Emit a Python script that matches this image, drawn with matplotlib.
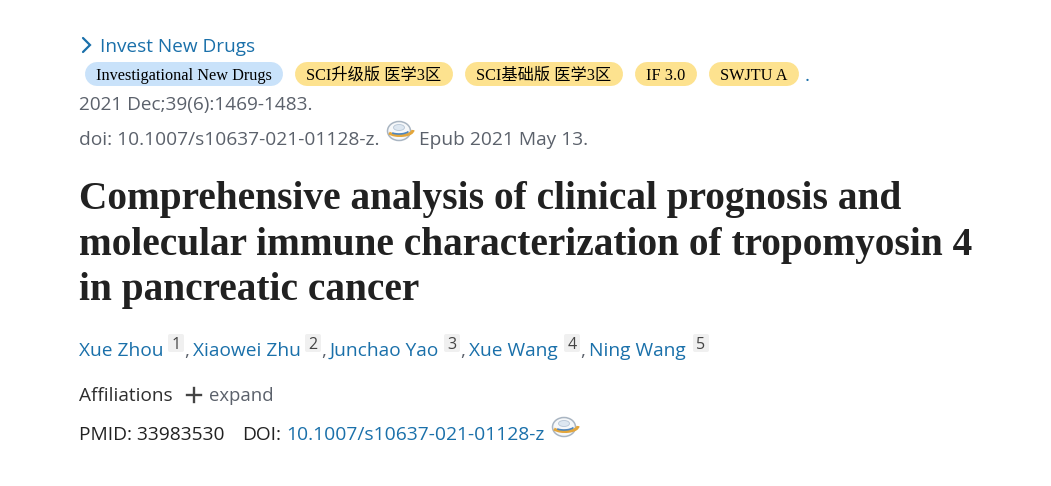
import matplotlib
matplotlib.use('Agg')
import matplotlib.pyplot as plt
from matplotlib.patches import FancyBboxPatch, Ellipse, Arc

# texts of the page
journal = 'Invest New Drugs'
pill_labels = ['Investigational New Drugs', 'SCI升级版 医学3区', 'SCI基础版 医学3区', 'IF 3.0', 'SWJTU A']
citation = '2021 Dec;39(6):1469-1483.'
doi_line = 'doi: 10.1007/s10637-021-01128-z.'
epub = 'Epub 2021 May 13.'
title_lines = ['Comprehensive analysis of clinical prognosis and',
               'molecular immune characterization of tropomyosin 4',
               'in pancreatic cancer']
authors = ['Xue Zhou', 'Xiaowei Zhu', 'Junchao Yao', 'Xue Wang', 'Ning Wang']
author_refs = ['1', '2', '3', '4', '5']
pmid = 'PMID: 33983530'
doi_label = 'DOI:'
doi_value = '10.1007/s10637-021-01128-z'

BLUE = '#1a70aa'
GREY = '#5b616b'
DARK = '#212121'
SANS = ['Open Sans', 'Noto Sans', 'DejaVu Sans']
SERIF = ['Liberation Serif', 'Noto Sans CJK SC']

fig = plt.figure(figsize=(10.51, 4.86), dpi=100)
ax = fig.add_axes([0, 0, 1, 1])
ax.set_xlim(0, 1051)
ax.set_ylim(486, 0)
ax.axis('off')


def px(size):
    return size * 0.72


def label(x, y, s, size=19, color=GREY, family=SANS, **kw):
    return ax.text(x, y, s, fontsize=px(size), color=color, family=family, va='baseline', **kw)


def pill(x0, x1, y0, y1, color):
    # thick line with round caps gives a true capsule
    h = y1 - y0
    ax.plot([x0 + h / 2, x1 - h / 2], [(y0 + y1) / 2] * 2, color=color, lw=px(h), solid_capstyle='round')


def globe(cx, cy):
    # small doi icon
    ax.add_patch(Ellipse((cx, cy), 23, 19, fc='#f6f8fa', ec='#a9b5c2', lw=1.1))
    ax.add_patch(Ellipse((cx, cy - 3.5), 11, 6, fc='#dde7f1', ec='#b7c6d6', lw=0.6))
    ax.add_patch(Arc((cx + 1, cy - 1), 26, 11, theta1=0, theta2=165, color='#e3a63c', lw=2.2))
    ax.add_patch(Arc((cx, cy - 2), 22, 10, theta1=15, theta2=150, color='#4f86bd', lw=1.2))


# journal link
ax.plot([83, 90, 83], [38, 45, 52], color=BLUE, lw=1.6, solid_capstyle='round', solid_joinstyle='miter')
label(100, 52, journal, size=19, color=BLUE)

# pills
pill_x = [(85, 283), (295, 453), (465, 623), (635, 697), (709, 799)]
pill_colors = ['#c9e2fa', '#fde28f', '#fde28f', '#fde28f', '#fde28f']
for (x0, x1), col, s in zip(pill_x, pill_colors, pill_labels):
    pill(x0, x1, 62, 86, col)
    ax.text((x0 + x1) / 2, 80, s, fontsize=px(16.2), color='black', family=SERIF, ha='center', va='baseline')
label(805, 81, '.', size=19, color=BLUE)

# citation
label(79, 110, citation, size=19.0)
label(79, 145, doi_line, size=19.2)
globe(399, 131)
label(419, 145, epub, size=19.2)

# title
for y, s in zip([209, 255, 300], title_lines):
    ax.text(79, y, s, fontsize=px(39.4), color=DARK, family=['Liberation Serif'], weight='bold', va='baseline')

# authors
author_x = [79, 193, 330, 469, 589]
ref_x = [176, 313, 452, 572, 701]
for i, (s, r) in enumerate(zip(authors, author_refs)):
    label(author_x[i], 356, s, size=19.2, color=BLUE)
    ax.add_patch(FancyBboxPatch((ref_x[i] - 8, 334), 16, 18, boxstyle='round,pad=0,rounding_size=2',
                                fc='#f0f0f0', ec='none'))
    label(ref_x[i], 349, r, size=16, color='#444444', ha='center')
    if i < 4:
        label(ref_x[i] + 8, 356, ',', size=19, color=GREY)

# affiliations
label(79, 401, 'Affiliations', size=19, color='#2e2e2e')
ax.plot([187, 201], [395, 395], color='#444444', lw=1.7)
ax.plot([194, 194], [388, 402], color='#444444', lw=1.7)
label(209, 401, 'expand', size=18.5, color=GREY)

# ids
label(79, 440, pmid, size=19.2, color=DARK)
label(242, 440, doi_label, size=19.2, color=DARK)
label(286, 440, doi_value, size=19.3, color=BLUE)
globe(564, 427)

fig.savefig('out.png', dpi=100)
